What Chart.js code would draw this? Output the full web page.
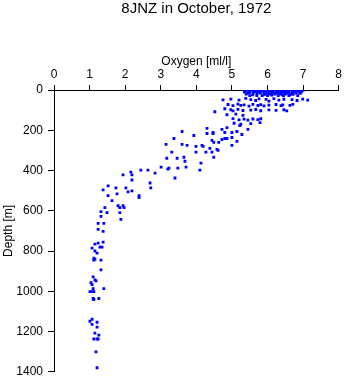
<!DOCTYPE html>
<html>
<head>
<meta charset="utf-8">
<script src="https://cdn.jsdelivr.net/npm/chart.js@4"></script>
<style>
  html, body { margin: 0; padding: 0; background: #fff; }
  #wrap { width: 345px; height: 384px; position: relative; }
</style>
</head>
<body>
<div id="wrap"><canvas id="oxyChart"></canvas></div>
<script>
// Oxygen [ml/l] and depth [m], one entry per sample
const oxygen = [
  // surface layer
  5.40, 5.55, 5.70, 5.85, 6.00, 6.10, 6.20, 6.35, 6.45, 6.55, 6.70, 6.85, 7.00,
  5.50, 5.65, 5.80, 5.95, 6.05, 6.25, 6.40, 6.50, 6.60, 6.75, 6.90,
  5.35, 5.50, 5.75, 5.90, 6.00, 6.15, 6.30, 6.45, 6.60, 6.70, 6.95,
  5.45, 5.60, 5.80, 6.00, 6.10, 6.25, 6.40, 6.55, 6.80,
  5.40, 5.70, 5.90, 6.05, 6.20, 6.35, 6.50, 6.65,
  5.50, 5.70, 5.85, 6.00, 6.30, 6.45, 6.60, 6.85,
  5.38, 5.62, 5.78, 6.08, 6.22, 6.38, 6.52, 6.62, 6.78, 6.92,
  5.48, 5.58, 5.68, 5.92, 6.12, 6.28, 6.42, 6.58, 6.72, 6.88,
  4.97, 5.20, 5.39, 5.53, 5.67, 5.76, 5.96, 6.04, 6.18, 6.32, 6.46, 6.69, 6.83, 6.99, 7.13, 4.75,
  4.89, 5.03, 5.17, 5.25, 5.34, 5.48, 5.59, 5.73, 5.81, 5.90, 6.04, 6.24, 6.38, 6.43, 6.63, 6.71,
  4.97, 5.03, 5.17, 5.31, 5.53, 5.67, 5.81, 6.04, 6.24, 6.46, 6.54, 4.80, 4.52,
  4.86, 5.11, 5.31,
  5.03, 5.20, 5.34, 5.45, 5.59, 5.73, 5.81,
  5.06, 5.25, 5.53, 5.79, 5.22,
  // thermocline
  3.60, 4.30, 4.30, 4.72, 4.86, 4.80, 5.00, 5.14, 5.28, 5.45, 3.93, 4.47, 4.47,
  3.37, 4.80, 4.72, 4.86, 5.14, 5.00, 4.44, 4.49, 4.63,
  3.15, 3.60, 3.74, 3.99, 4.16, 5.00, 4.19, 4.38, 4.58, 4.61,
  3.31, 3.99, 4.27, 4.44, 3.65, 3.17, 3.46, 4.49, 3.68, 4.13,
  3.01, 3.23, 3.48, 3.71, 4.10, 3.40,
  1.94, 2.16, 2.19, 2.44, 2.64, 2.84, 3.20,
  2.19, 2.70, 2.72, 1.52, 1.38, 1.74, 2.02, 1.77, 2.08, 2.19,
  1.52, 1.63, 2.39, 2.39, 1.80, 1.94, 1.85, 1.97, 1.43,
  1.32, 1.49, 1.85, 1.32, 1.88, 1.40, 1.24, 1.38, 1.24,
  // deep water
  1.38, 1.35, 1.32, 1.32, 1.15, 1.24, 1.07, 1.15, 1.21, 1.29, 1.12, 1.15, 1.12,
  1.10, 1.15, 1.04, 1.07, 1.10, 1.07, 1.01, 1.40, 1.10, 1.12, 1.26, 1.18, 1.12,
  1.07, 1.01, 1.07, 1.21, 1.21, 1.15, 1.26, 1.12, 1.21, 1.24, 1.18, 1.21
];
const depth = [
  2, 2, 2, 2, 2, 2, 2, 2, 2, 2, 2, 2, 2,
  6, 6, 6, 6, 6, 6, 6, 6, 6, 6, 6,
  10, 10, 10, 10, 10, 10, 10, 10, 10, 10, 10,
  15, 15, 15, 15, 15, 15, 15, 15, 15,
  20, 20, 20, 20, 20, 20, 20, 20,
  28, 28, 28, 28, 28, 28, 28, 28,
  4, 8, 12, 4, 17, 8, 12, 24, 4, 17,
  13, 24, 8, 22, 25, 12, 24, 8, 22, 12,
  45, 50, 42, 48, 52, 44, 47, 55, 43, 50, 46, 48, 52, 45, 50, 49,
  72, 78, 70, 76, 74, 80, 71, 77, 73, 79, 75, 72, 78, 74, 76, 71,
  98, 104, 96, 102, 100, 97, 103, 99, 101, 98, 104, 93, 108,
  123, 120, 126,
  142, 148, 145, 150, 144, 147, 143,
  165, 170, 167, 162, 177,
  206, 191, 216, 196, 187, 211, 211, 206, 221, 196, 226, 216, 211,
  241, 241, 246, 241, 255, 236, 250, 260, 260,
  270, 270, 275, 280, 275, 275, 280, 290, 295, 300,
  309, 309, 309, 309, 334, 339, 339, 334, 354, 363,
  383, 388, 388, 383, 398, 437,
  422, 408, 422, 398, 398, 413, 393,
  447, 462, 486, 476, 496, 486, 486, 516, 506, 501,
  525, 550, 525, 535, 575, 575, 584, 584, 584,
  604, 609, 609, 628, 643, 663, 663, 702, 692,
  756, 781, 845, 894, 766, 761, 786, 800, 810, 781, 835, 840, 845,
  928, 943, 957, 967, 987, 1002, 1002, 987, 1036, 1041, 1036, 948, 1002,
  1139, 1149, 1164, 1154, 1178, 1208, 1218, 1237, 1237, 1237, 1301, 1380
];
const oxygenTicks = [0, 1, 2, 3, 4, 5, 6, 7, 8];
const depthTicks = [0, 200, 400, 600, 800, 1000, 1200, 1400];

const points = oxygen.map((o, i) => ({ x: o, y: depth[i] }));
const axisFont = { family: 'Liberation Sans, Arial, sans-serif', size: 12 };

function initChart() {
    const ctx = document.getElementById('oxyChart').getContext('2d');
    new Chart(ctx, {
        type: 'scatter',
        data: {
            datasets: [{
                label: '8JNZ',
                data: points,
                backgroundColor: '#0000ff',
                borderWidth: 0,
                pointStyle: 'rect',
                pointRadius: 2
            }]
        },
        options: {
            responsive: true,
            maintainAspectRatio: false,
            animation: false,
            layout: { padding: { top: 0, right: 6, bottom: 9, left: 0 } },
            plugins: {
                legend: { display: false },
                tooltip: { enabled: false },
                title: {
                    display: true,
                    text: '8JNZ in October, 1972',
                    fullSize: false,
                    color: '#000',
                    font: { family: 'Liberation Sans, Arial, sans-serif', size: 15, weight: 'normal' },
                    padding: { top: 0, bottom: 10 }
                }
            },
            scales: {
                x: {
                    type: 'linear',
                    position: 'top',
                    min: oxygenTicks[0],
                    max: oxygenTicks[oxygenTicks.length - 1],
                    afterBuildTicks: s => { s.ticks = oxygenTicks.map(v => ({ value: v })); },
                    afterFit: s => { s.height = 62; },
                    grid: { drawOnChartArea: false, drawTicks: true, tickLength: 5, color: '#000' },
                    border: { display: true, color: '#000', width: 1 },
                    ticks: { color: '#000', font: axisFont, padding: 3, maxRotation: 0, callback: v => String(v) },
                    title: {
                        display: true,
                        text: 'Oxygen [ml/l]',
                        color: '#000',
                        font: axisFont,
                        padding: { top: 26, bottom: 0 }
                    }
                },
                y: {
                    type: 'linear',
                    reverse: true,
                    min: depthTicks[0],
                    max: depthTicks[depthTicks.length - 1],
                    afterBuildTicks: s => { s.ticks = depthTicks.map(v => ({ value: v })); },
                    afterFit: s => { s.width = 54; },
                    grid: { drawOnChartArea: false, drawTicks: true, tickLength: 6, color: '#000' },
                    border: { display: true, color: '#000', width: 1 },
                    ticks: { color: '#000', font: axisFont, padding: 5, callback: v => String(v) },
                    title: {
                        display: true,
                        text: 'Depth [m]',
                        color: '#000',
                        font: axisFont,
                        padding: { top: 1, bottom: 0 }
                    }
                }
            }
        }
    });
}

document.addEventListener('DOMContentLoaded', initChart);
</script>
</body>
</html>
